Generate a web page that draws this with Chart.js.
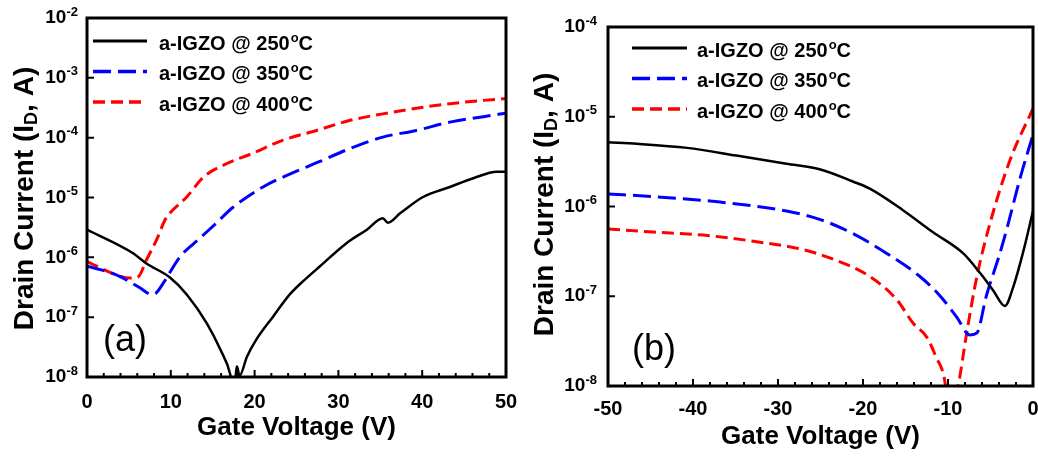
<!DOCTYPE html>
<html><head><meta charset="utf-8">
<script src="https://cdn.jsdelivr.net/npm/chart.js@4"></script>
<style>
html,body{margin:0;padding:0;background:#fff;width:1038px;height:456px;overflow:hidden}
#wa{position:absolute;left:0;top:0;width:520px;height:456px}
#wb{position:absolute;left:520px;top:0;width:518px;height:456px}
</style></head><body>
<div id="wa"><canvas id="ca"></canvas></div>
<div id="wb"><canvas id="cb"></canvas></div>
<script>
const FONT = "'Liberation Sans', Arial, sans-serif";

// ---------- Panel (a) ----------
const xTicksA = [0,2,4,6,8,10,12,14,16,18,20,22,24,26,28,30,32,34,36,38,40,42,44,46,48,50];
const yTicksA = [1e-8,1e-7,1e-6,1e-5,1e-4,1e-3,1e-2];
const aV250 = [0,5.5,7.1,9.9,11.9,14.3,15.9,17.1,17.5,17.9,18.2,19.1,20.2,22.2,24.2,25.8,27.8,31.0,33.4,35.3,35.9,37.4,40.1,43.3,46.1,48.9,50];
const aI250 = [2.9e-6,1.17e-6,7.9e-7,4.6e-7,2.4e-7,7.9e-8,2.9e-8,1.1e-8,5e-9,1.5e-8,1.05e-8,2.2e-8,4.2e-8,1.02e-7,2.4e-7,4.0e-7,7.1e-7,1.74e-6,2.9e-6,4.5e-6,3.8e-6,5.5e-6,1.02e-5,1.5e-5,2.1e-5,2.7e-5,2.7e-5];
const aV350 = [0,3.5,6.3,7.7,8.2,9.1,11.1,13.5,15.3,17.4,21.0,24.6,27.8,31.4,35.3,39.3,43.3,47.3,50];
const aI350 = [7.1e-7,5.1e-7,3.1e-7,2.4e-7,2.5e-7,3.7e-7,1.02e-6,2.1e-6,3.6e-6,6.8e-6,1.5e-5,2.6e-5,4.0e-5,6.6e-5,1.02e-4,1.32e-4,1.82e-4,2.24e-4,2.57e-4];
const aV400 = [0,3.5,5.1,6.1,7.1,8.3,9.3,9.9,11.9,13.9,16.7,19.8,23.4,27.4,31.4,35.3,39.3,43.3,47.3,50];
const aI400 = [8.5e-7,5.1e-7,4.5e-7,4.7e-7,9.1e-7,1.95e-6,4.2e-6,5.5e-6,1.02e-5,2.2e-5,3.7e-5,5.5e-5,9.1e-5,1.32e-4,1.95e-4,2.5e-4,3.1e-4,3.7e-4,4.2e-4,4.5e-4];

// ---------- Panel (b) ----------
const xTicksB = [-50,-48,-46,-44,-42,-40,-38,-36,-34,-32,-30,-28,-26,-24,-22,-20,-18,-16,-14,-12,-10,-8,-6,-4,-2,0];
const yTicksB = [1e-8,1e-7,1e-6,1e-5,1e-4];
const bV250 = [-50,-46.6,-40.7,-34.9,-29.0,-25.1,-21.2,-19.2,-15.3,-11.8,-8.2,-6.2,-4.7,-3.3,-2.3,-1.2,0];
const bI250 = [5.2e-6,5.0e-6,4.5e-6,3.7e-6,3.0e-6,2.6e-6,1.9e-6,1.58e-6,9.1e-7,5.2e-7,3.0e-7,1.8e-7,1.17e-7,7.8e-8,1.29e-7,3.0e-7,8.9e-7];
const bV350 = [-50,-44.7,-36.8,-29.0,-25.1,-21.2,-17.2,-13.3,-10.9,-9.0,-7.4,-6.6,-5.5,-3.9,-3.0,-1.5,0];
const bI350 = [1.38e-6,1.29e-6,1.12e-6,8.9e-7,7.2e-7,5.0e-7,3.0e-7,1.66e-7,1.0e-7,5.9e-8,3.7e-8,3.9e-8,1.0e-7,3.0e-7,6.0e-7,2.1e-6,6.3e-6];
const bV400 = [-50,-44.7,-38.8,-32.9,-27.0,-23.1,-19.2,-16.0,-14.1,-12.5,-11.4,-10.4,-9.8,-8.8,-7.8,-6.6,-5.1,-2.7,0];
const bI400 = [5.6e-7,5.2e-7,4.8e-7,4.1e-7,3.3e-7,2.5e-7,1.66e-7,9.1e-8,5.0e-8,3.5e-8,2.1e-8,1.17e-8,4e-9,1.0e-8,3.9e-8,1.66e-7,6.3e-7,3.3e-6,1.23e-5];

const seriesNames = ['a-IGZO @ 250°C','a-IGZO @ 350°C','a-IGZO @ 400°C'];
const legendText = ['a-IGZO @ 250','a-IGZO @ 350','a-IGZO @ 400'];
const seriesColors = ['#000000','#0000ff','#ff0000'];
const seriesDash = [[],[18,7],[12,6]];
const seriesWidth = [2.5,3,3];

function pts(xs, ys){ return xs.map((v,i)=>({x:v,y:ys[i]})); }

const decor = {
  id: 'decor',
  afterDraw(chart, args, o) {
    const ctx = chart.ctx, a = chart.chartArea, xs = chart.scales.x, ys = chart.scales.y;
    ctx.save();
    ctx.strokeStyle = '#000'; ctx.fillStyle = '#000';
    ctx.lineWidth = 2; ctx.setLineDash([]);
    ctx.beginPath();
    xs.ticks.forEach(t => {
      const px = xs.getPixelForValue(t.value);
      const len = (Math.round(t.value) % 10 === 0) ? 7 : 4;
      ctx.moveTo(px, a.bottom); ctx.lineTo(px, a.bottom - len);
    });
    ys.ticks.forEach(t => {
      const py = ys.getPixelForValue(t.value);
      ctx.moveTo(a.left, py); ctx.lineTo(a.left + 7, py);
    });
    ctx.stroke();
    ctx.lineWidth = 3;
    ctx.strokeRect(a.left, a.top, a.right - a.left, a.bottom - a.top);

    // y tick labels 10^n
    ctx.textBaseline = 'middle';
    ys.ticks.forEach(t => {
      const py = ys.getPixelForValue(t.value);
      const e = String(Math.round(Math.log10(t.value)));
      ctx.font = 'bold 13px ' + FONT;
      const ew = ctx.measureText(e).width;
      ctx.textAlign = 'left';
      ctx.fillText(e, o.labelRight - ew, py - 6);
      ctx.font = 'bold 19px ' + FONT;
      ctx.textAlign = 'right';
      ctx.fillText('10', o.labelRight - ew, py);
    });

    // y title with subscript
    ctx.save();
    ctx.translate(o.titleX, (a.top + a.bottom) / 2 + o.titleShift);
    ctx.rotate(-Math.PI / 2);
    const parts = [['Drain Current (I', 28, 0], ['D', 18, 7], [', A)', 28, 0]];
    let total = 0;
    parts.forEach(p => { ctx.font = 'bold ' + p[1] + 'px ' + FONT; total += ctx.measureText(p[0]).width; });
    let tx = -total / 2;
    ctx.textAlign = 'left';
    parts.forEach(p => {
      ctx.font = 'bold ' + p[1] + 'px ' + FONT;
      ctx.fillText(p[0], tx, p[2]);
      tx += ctx.measureText(p[0]).width;
    });
    ctx.restore();

    // legend
    chart.data.datasets.forEach((ds, i) => {
      const ry = o.legendY + i * o.legendGap;
      ctx.beginPath();
      ctx.setLineDash(ds.borderDash || []);
      ctx.lineWidth = ds.borderWidth + 0.5;
      ctx.strokeStyle = ds.borderColor;
      ctx.moveTo(o.legendX1, ry); ctx.lineTo(o.legendX2, ry);
      ctx.stroke();
      ctx.setLineDash([]);
      ctx.fillStyle = '#000'; ctx.textAlign = 'left';
      ctx.font = 'bold 20px ' + FONT;
      let lx = o.legendTextX;
      const t = legendText[i];
      ctx.fillText(t, lx, ry + 3); lx += ctx.measureText(t).width + 1;
      ctx.font = 'bold 13px ' + FONT;
      ctx.fillText('o', lx, ry - 3); lx += ctx.measureText('o').width;
      ctx.font = 'bold 20px ' + FONT;
      ctx.fillText('C', lx, ry + 3);
    });

    // panel label
    ctx.font = '36px ' + FONT;
    ctx.textAlign = 'left';
    ctx.fillText(o.panel, o.panelX, o.panelY);
    ctx.restore();
  }
};

function makeChart(id, series, xMin, xMax, xTicks, yMin, yMax, yTicks, lay, deco) {
  return new Chart(document.getElementById(id), {
    type: 'line',
    data: {
      datasets: series.map((s, i) => ({
        label: seriesNames[i],
        data: pts(s[0], s[1]),
        borderColor: seriesColors[i],
        backgroundColor: seriesColors[i],
        borderWidth: seriesWidth[i],
        borderDash: seriesDash[i],
        pointRadius: 0,
        fill: false,
        cubicInterpolationMode: 'monotone',
        clip: 0
      }))
    },
    options: {
      responsive: true,
      maintainAspectRatio: false,
      devicePixelRatio: 1,
      animation: false,
      layout: { padding: lay.padding },
      plugins: { legend: { display: false }, tooltip: { enabled: false }, decor: deco },
      scales: {
        x: {
          type: 'linear', min: xMin, max: xMax,
          afterBuildTicks: s => { s.ticks = xTicks.map(v => ({ value: v })); },
          afterFit: s => { s.height = lay.xHeight; s.paddingLeft = 0; s.paddingRight = 0; },
          ticks: {
            autoSkip: false, maxRotation: 0, minRotation: 0, padding: lay.tickPad,
            color: '#000', font: { family: FONT, size: 20, weight: 'bold' },
            callback: v => (Math.round(v) % 10 === 0 ? String(v) : '')
          },
          grid: { display: false, drawTicks: false },
          border: { display: false },
          title: {
            display: true, text: 'Gate Voltage (V)', color: '#000',
            font: { family: FONT, size: 26, weight: 'bold' },
            padding: { top: 0, bottom: lay.titlePad }
          }
        },
        y: {
          type: 'logarithmic', min: yMin, max: yMax,
          afterBuildTicks: s => { s.ticks = yTicks.map(v => ({ value: v })); },
          afterFit: s => { s.width = lay.yWidth; s.paddingTop = 0; s.paddingBottom = 0; },
          ticks: { display: false },
          grid: { display: false, drawTicks: false },
          border: { display: false },
          title: { display: false }
        }
      }
    },
    plugins: [decor]
  });
}

makeChart('ca', [[aV250, aI250], [aV350, aI350], [aV400, aI400]], 0, 50, xTicksA, 1e-8, 1e-2, yTicksA,
  { padding: { top: 18, right: 14, bottom: 0, left: 0 }, xHeight: 79, yWidth: 87, tickPad: 13, titlePad: 13 },
  { labelRight: 78, titleX: 25, titleShift: 1, legendY: 41, legendGap: 30.5, legendX1: 93, legendX2: 147, legendTextX: 159,
    panel: '(a)', panelX: 103, panelY: 341 });

makeChart('cb', [[bV250, bI250], [bV350, bI350], [bV400, bI400]], -50, 0, xTicksB, 1e-8, 1e-4, yTicksB,
  { padding: { top: 27, right: 5, bottom: 0, left: 0 }, xHeight: 70, yWidth: 88, tickPad: 11.5, titlePad: 4 },
  { labelRight: 77, titleX: 25, titleShift: -2, legendY: 48, legendGap: 30.5, legendX1: 112, legendX2: 167, legendTextX: 177,
    panel: '(b)', panelX: 112, panelY: 350 });
</script>
</body></html>
